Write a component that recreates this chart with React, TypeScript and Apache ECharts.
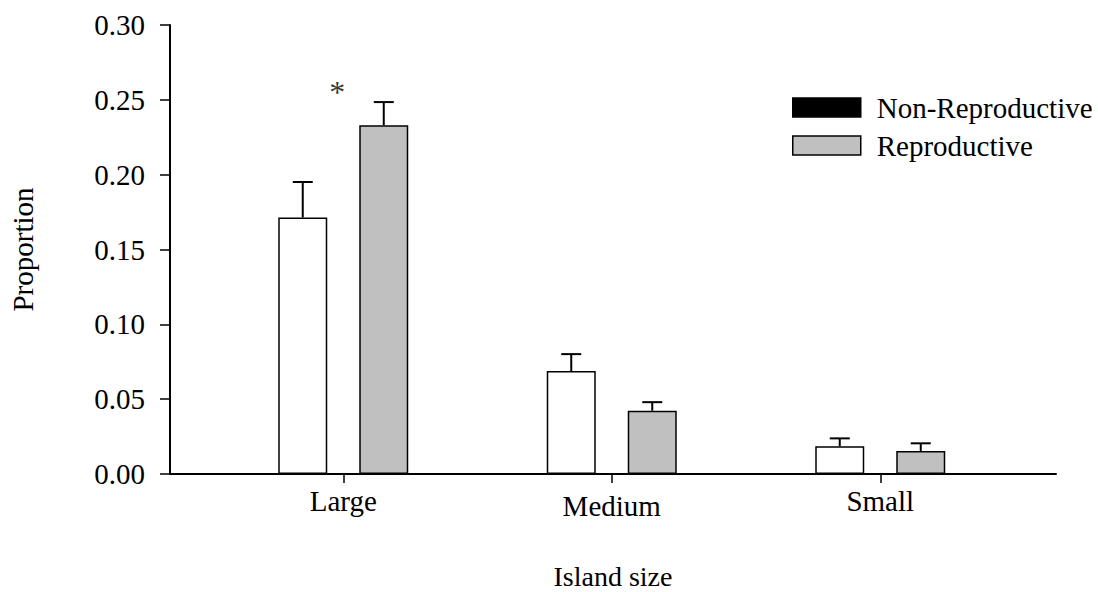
import React, { useEffect, useRef } from "react";
import * as echarts from "echarts";

const categories = ["Large", "Medium", "Small"];
const nonReproductive = [0.1714, 0.0688, 0.0185];
const nonReproductiveSE = [0.0237, 0.0113, 0.0053];
const reproductive = [0.233, 0.0423, 0.0154];
const reproductiveSE = [0.0155, 0.0057, 0.0051];
const yMin = 0;
const yMax = 0.3;
const yInterval = 0.05;
const significance = [{ category: "Large", value: 0.255, mark: "*" }];

const FONT = '"Liberation Serif", "Times New Roman", serif';
const FS = 29;
const TOP = 25;
const BOTTOM = 118;
const BAR_W = 49;
const BAR_GAP = 32;

export default function App() {
  const ref = useRef<HTMLDivElement>(null);
  useEffect(() => {
    if (!ref.current) return;
    const chart = echarts.init(ref.current, undefined, { renderer: "svg" });

    const errRender = (sign: number) => (params: any, api: any) => {
      const cat = api.value(0);
      const v = api.value(1);
      const se = api.value(2);
      const p0 = api.coord([cat, v]);
      const p1 = api.coord([cat, v + se]);
      const x = p0[0] + sign * (BAR_W + BAR_GAP) / 2;
      const st = { stroke: "#000", lineWidth: 2 };
      return {
        type: "group",
        children: [
          { type: "line", shape: { x1: x, y1: p0[1], x2: x, y2: p1[1] }, style: st },
          { type: "line", shape: { x1: x - 10, y1: p1[1], x2: x + 10, y2: p1[1] }, style: st },
        ],
      };
    };

    const option: any = {
      animation: false,
      backgroundColor: "#fff",
      textStyle: { fontFamily: FONT, color: "#000" },
      legend: {
        orient: "vertical",
        left: 792,
        top: 93,
        padding: 0,
        itemWidth: 68,
        itemHeight: 19,
        itemGap: 9,
        icon: "rect",
        selectedMode: false,
        textStyle: { fontFamily: FONT, fontSize: FS, color: "#000", lineHeight: 28, padding: [0, 0, 0, 11] },
        data: [
          { name: "Non-Reproductive", itemStyle: { color: "#000", borderColor: "#000", borderWidth: 1.5 } },
          { name: "Reproductive", itemStyle: { color: "#c0c0c0", borderColor: "#000", borderWidth: 1.5 } },
        ],
      },
      grid: [
        { left: 209, right: 83.5, top: TOP, bottom: BOTTOM, outerBoundsMode: "none", containLabel: false },
        { left: 170, right: 42, top: TOP, bottom: BOTTOM, outerBoundsMode: "none", containLabel: false },
      ],
      xAxis: [
        {
          gridIndex: 0,
          type: "category",
          data: categories.map((c) =>
            c === "Medium" ? { value: c, textStyle: { padding: [5, 0, 0, 0] } } : c
          ),
          axisLine: { show: false },
          axisTick: { show: true, alignWithLabel: true, length: 9, lineStyle: { color: "#000", width: 1.5 } },
          axisLabel: { fontFamily: FONT, fontSize: FS, color: "#000", margin: 12 },
          splitLine: { show: false },
        },
        {
          gridIndex: 1,
          type: "value",
          min: 0,
          max: 1,
          axisLine: { show: true, lineStyle: { color: "#000", width: 2 } },
          axisTick: { show: false },
          axisLabel: { show: false },
          splitLine: { show: false },
          name: "Island size",
          nameLocation: "middle",
          nameGap: 90,
          nameTextStyle: { fontFamily: FONT, fontSize: 28, color: "#000", lineHeight: 24 },
        },
      ],
      yAxis: [
        {
          gridIndex: 0,
          type: "value",
          min: yMin,
          max: yMax,
          interval: yInterval,
          show: false,
        },
        {
          gridIndex: 1,
          type: "value",
          min: yMin,
          max: yMax,
          interval: yInterval,
          axisLine: { show: true, lineStyle: { color: "#000", width: 2 } },
          axisTick: { show: true, length: 10, lineStyle: { color: "#000", width: 1.5 } },
          axisLabel: {
            fontFamily: FONT,
            fontSize: FS,
            color: "#000",
            margin: 25,
            formatter: (v: number) => v.toFixed(2),
          },
          splitLine: { show: false },
          name: "Proportion",
          nameLocation: "middle",
          nameGap: 133,
          nameTextStyle: { fontFamily: FONT, fontSize: FS, color: "#000" },
        },
      ],
      series: [
        {
          name: "Non-Reproductive",
          type: "bar",
          xAxisIndex: 0,
          yAxisIndex: 0,
          data: nonReproductive,
          barWidth: BAR_W,
          barGap: (BAR_GAP / BAR_W) * 100 + "%",
          itemStyle: { color: "#fff", borderColor: "#000", borderWidth: 1.5 },
        },
        {
          name: "Reproductive",
          type: "bar",
          xAxisIndex: 0,
          yAxisIndex: 0,
          data: reproductive,
          barWidth: BAR_W,
          barGap: (BAR_GAP / BAR_W) * 100 + "%",
          itemStyle: { color: "#c0c0c0", borderColor: "#000", borderWidth: 1.5 },
        },
        {
          type: "custom",
          xAxisIndex: 0,
          yAxisIndex: 0,
          z: 5,
          renderItem: errRender(-1),
          data: categories.map((c, i) => [i, nonReproductive[i], nonReproductiveSE[i]]),
        },
        {
          type: "custom",
          xAxisIndex: 0,
          yAxisIndex: 0,
          z: 5,
          renderItem: errRender(1),
          data: categories.map((c, i) => [i, reproductive[i], reproductiveSE[i]]),
        },
        {
          type: "scatter",
          xAxisIndex: 0,
          yAxisIndex: 0,
          symbolSize: 0,
          data: significance.map((s) => ({ value: [s.category, s.value] })),
          label: {
            show: true,
            position: "inside",
            offset: [-6, 0],
            formatter: () => significance[0].mark,
            fontFamily: FONT,
            fontSize: 32,
            color: "#000",
          },
        },
      ],
    };
    chart.setOption(option);
    return () => chart.dispose();
  }, []);
  return (
    <div
      ref={ref}
      style={{ position: "absolute", left: 0, top: 0, width: 1098, height: 592, background: "#fff" }}
    />
  );
}
